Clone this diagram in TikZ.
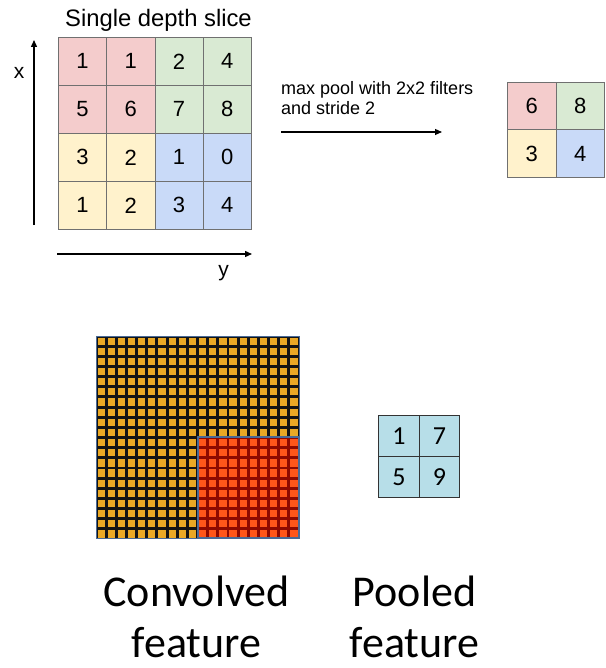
\documentclass[tikz,border=0pt]{standalone}
\usepackage{fontspec}
\setmainfont{Liberation Sans}
\newfontfamily\calibri{Carlito}
\usetikzlibrary{arrows.meta}
\definecolor{cred}{HTML}{F4CCCC}
\definecolor{cgreen}{HTML}{D9EAD3}
\definecolor{cyellow}{HTML}{FFF2CC}
\definecolor{cblue}{HTML}{C9DAF8}
\definecolor{gridgray}{HTML}{707070}
\definecolor{orangecell}{HTML}{EAA825}
\definecolor{redcell}{HTML}{FF561A}
\definecolor{darkred}{HTML}{8E0A00}
\definecolor{bluegray}{HTML}{4A6A96}
\definecolor{poolblue}{HTML}{B7DEE8}
\begin{document}
\begin{tikzpicture}[x=1pt,y=-1pt,
  cell/.style={draw=gridgray, line width=0.8pt, minimum width=48.25pt, minimum height=48pt,
    inner sep=0pt, anchor=north west, font=\fontsize{22}{22}\selectfont},
  pcell/.style={draw=gridgray, line width=0.8pt, minimum width=48.5pt, minimum height=47.5pt,
    inner sep=0pt, anchor=north west, font=\fontsize{22}{22}\selectfont},
  bcell/.style={draw=black!80, fill=poolblue, line width=1.2pt, minimum width=40.5pt, minimum height=41pt,
    inner sep=0pt, anchor=north west, font=\calibri\fontsize{26}{26}\selectfont},
  axis/.style={line width=1.3pt, -{Triangle[length=7pt,width=6pt]}},
  label/.style={inner sep=0pt, anchor=base},
  bigtext/.style={inner sep=0pt, anchor=base, font=\calibri\fontsize{44}{44}\selectfont},
]
\useasboundingbox (0,0) rectangle (605,668);

% title
\node[label, font=\fontsize{23.8}{23.8}\selectfont] (title) at (158.5,27) {Single depth slice};

% 4x4 grid
\foreach \r/\c/\v/\col in {0/0/1/cred,0/1/1/cred,0/2/2/cgreen,0/3/4/cgreen,
                           1/0/5/cred,1/1/6/cred,1/2/7/cgreen,1/3/8/cgreen,
                           2/0/3/cyellow,2/1/2/cyellow,2/2/1/cblue,2/3/0/cblue,
                           3/0/1/cyellow,3/1/2/cyellow,3/2/3/cblue,3/3/4/cblue}
  \node[cell, fill=\col] (g\r\c) at ({58+48.25*\c},{37+48*\r}) {\v};

% axes
\coordinate (xa0) at (34,225);
\coordinate (xa1) at (34,40);
\coordinate (ya0) at (57,254);
\coordinate (ya1) at (252,254);
\draw[axis] (xa0) -- (xa1);
\draw[axis] (ya0) -- (ya1);
\node[label, font=\fontsize{21}{21}\selectfont] (xl) at (19,79) {x};
\node[label, font=\fontsize{21}{21}\selectfont] (yl) at (223.5,276) {y};

% operation text and arrow
\node[inner sep=0pt, anchor=base west, font=\fontsize{18}{18}\selectfont] (mp1) at (281,95) {max pool with 2x2 filters};
\node[inner sep=0pt, anchor=base west, font=\fontsize{18}{18}\selectfont] (mp2) at (281,115) {and stride 2};
\coordinate (ar0) at (281,132);
\coordinate (ar1) at (442,132);
\draw[axis, line width=1.1pt] (ar0) -- (ar1);

% pooled 2x2 grid
\foreach \r/\c/\v/\col in {0/0/6/cred,0/1/8/cgreen,1/0/3/cyellow,1/1/4/cblue}
  \node[pcell, fill=\col] (p\r\c) at ({507+48.5*\c},{82+47.5*\r}) {\v};

% convolved feature grid 20x20
\def\pp{10.15}
\fill[black!92] (96,336) rectangle (299,538);
\fill[darkred] (197.5,436.5) rectangle (299,538);
\foreach \i in {0,...,19}{
  \foreach \j in {0,...,19}{
    \pgfmathsetmacro{\xx}{96+\pp*\i+1.5}
    \pgfmathsetmacro{\yy}{336+\pp*\j+1.5}
    \ifnum\i>9 \ifnum\j>9
      \fill[redcell] (\xx,\yy) rectangle ++(7.2,7.2);
    \else
      \fill[orangecell] (\xx,\yy) rectangle ++(7.2,7.2);
    \fi\else
      \fill[orangecell] (\xx,\yy) rectangle ++(7.2,7.2);
    \fi
  }
}
\draw[bluegray, line width=0.9pt] (96,336) rectangle (299,538);
\draw[bluegray, line width=2pt] (197.5,436.5) rectangle (299,538);

% pooled feature grid
\foreach \r/\c/\v in {0/0/1,0/1/7,1/0/5,1/1/9}
  \node[bcell] (q\r\c) at ({378+40.5*\c},{415+41*\r}) {\v};

% captions
\node[bigtext] (cv1) at (196.5,606) {Convolved};
\node[bigtext] (cv2) at (196.5,657) {feature};
\node[bigtext] (pl1) at (414.5,606) {Pooled};
\node[bigtext] (pl2) at (414.5,657) {feature};
\end{tikzpicture}
\end{document}
